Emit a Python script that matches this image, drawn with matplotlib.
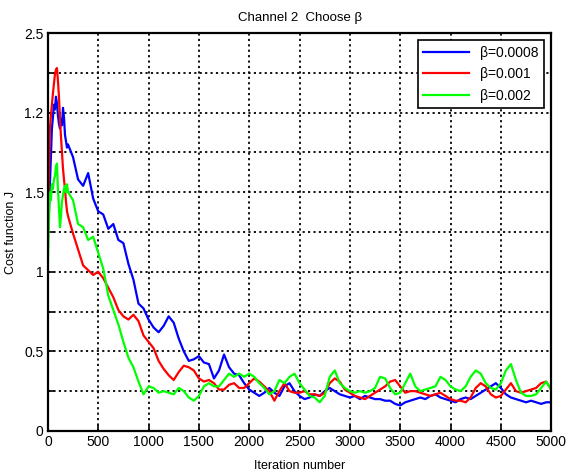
import numpy as np
import matplotlib
matplotlib.use('Agg')
import matplotlib.pyplot as plt

plt.rcParams['font.family'] = ['Liberation Sans', 'DejaVu Sans']

# iteration axis: fine steps at the start, then every 50
iterations = np.concatenate([np.arange(0, 201, 10), np.arange(250, 5001, 50)])

blue_0008 = [1.25, 1.38, 1.55, 1.72, 1.90, 1.97, 2.05, 2.02, 2.10, 2.06, 1.98,
             1.93, 1.90, 1.96, 1.92, 2.03, 1.97, 1.86, 1.82, 1.78, 1.80,
             1.72, 1.58, 1.54, 1.62, 1.46, 1.38, 1.36, 1.27, 1.30, 1.20,
             1.18, 1.05, 0.95, 0.80, 0.77, 0.70, 0.65, 0.62, 0.66, 0.72,
             0.68, 0.58, 0.50, 0.44, 0.45, 0.47, 0.43, 0.42, 0.33, 0.38,
             0.48, 0.40, 0.36, 0.35, 0.30, 0.26, 0.24, 0.22, 0.24, 0.27,
             0.24, 0.22, 0.28, 0.30, 0.25, 0.22, 0.20, 0.21, 0.23, 0.22,
             0.25, 0.27, 0.25, 0.23, 0.22, 0.21, 0.22, 0.20, 0.22, 0.21,
             0.20, 0.20, 0.19, 0.19, 0.17, 0.16, 0.18, 0.19, 0.20, 0.21,
             0.20, 0.22, 0.23, 0.21, 0.20, 0.19, 0.18, 0.20, 0.21, 0.20,
             0.22, 0.24, 0.26, 0.28, 0.30, 0.27, 0.23, 0.21, 0.20, 0.19,
             0.18, 0.19, 0.18, 0.17, 0.18, 0.18]

red_001 = [1.25, 1.60, 1.90, 1.98, 2.05, 2.12, 2.18, 2.24, 2.27, 2.28, 2.20,
           2.10, 1.96, 1.85, 1.75, 1.65, 1.58, 1.52, 1.44, 1.38, 1.35,
           1.24, 1.14, 1.04, 1.01, 0.98, 1.00, 0.96, 0.90, 0.84, 0.76,
           0.72, 0.70, 0.73, 0.69, 0.60, 0.56, 0.52, 0.44, 0.39, 0.35,
           0.32, 0.37, 0.41, 0.40, 0.38, 0.33, 0.31, 0.32, 0.30, 0.26,
           0.26, 0.29, 0.30, 0.27, 0.27, 0.30, 0.33, 0.31, 0.28, 0.25,
           0.19, 0.25, 0.30, 0.25, 0.24, 0.24, 0.25, 0.23, 0.23, 0.22,
           0.24, 0.30, 0.33, 0.31, 0.26, 0.24, 0.22, 0.21, 0.20, 0.22,
           0.24, 0.26, 0.28, 0.31, 0.32, 0.28, 0.24, 0.25, 0.25, 0.24,
           0.23, 0.22, 0.23, 0.24, 0.22, 0.20, 0.19, 0.19, 0.18, 0.21,
           0.27, 0.30, 0.28, 0.23, 0.21, 0.22, 0.26, 0.30, 0.25, 0.24,
           0.25, 0.26, 0.27, 0.30, 0.31, 0.26]

green_002 = [1.05, 1.30, 1.50, 1.45, 1.55, 1.52, 1.58, 1.60, 1.66, 1.68, 1.52,
             1.40, 1.28, 1.35, 1.44, 1.48, 1.52, 1.54, 1.50, 1.55, 1.50,
             1.45, 1.30, 1.28, 1.20, 1.22, 1.12, 1.02, 0.85, 0.76, 0.67,
             0.56, 0.46, 0.40, 0.31, 0.23, 0.28, 0.27, 0.24, 0.25, 0.24,
             0.23, 0.27, 0.25, 0.21, 0.19, 0.22, 0.28, 0.30, 0.28, 0.28,
             0.32, 0.36, 0.34, 0.36, 0.34, 0.36, 0.34, 0.30, 0.27, 0.23,
             0.25, 0.32, 0.30, 0.34, 0.36, 0.30, 0.26, 0.22, 0.21, 0.18,
             0.22, 0.34, 0.38, 0.30, 0.27, 0.25, 0.24, 0.25, 0.24, 0.25,
             0.27, 0.34, 0.33, 0.27, 0.23, 0.24, 0.30, 0.36, 0.28, 0.25,
             0.26, 0.27, 0.28, 0.34, 0.32, 0.28, 0.26, 0.25, 0.28, 0.34,
             0.38, 0.36, 0.30, 0.27, 0.26, 0.30, 0.38, 0.42, 0.32, 0.24,
             0.22, 0.22, 0.23, 0.27, 0.31, 0.26]

series_labels = ['\u03b2=0.0008', '\u03b2=0.001', '\u03b2=0.002']
series_colors = ['#0000ff', '#ff0000', '#00ff00']

y_ticks = [0, 0.25, 0.5, 0.75, 1, 1.25, 1.5, 1.75, 2, 2.25, 2.5]
y_tick_labels = ['0', '', '0.5', '', '1', '', '1.5', '', '1.2', '', '2.5']
x_ticks = np.arange(0, 5001, 500)

fig = plt.figure(figsize=(5.7, 4.72), dpi=100)
ax = fig.add_axes([0.084, 0.087, 0.883, 0.843])

for vals, lab, col in zip([blue_0008, red_001, green_002], series_labels, series_colors):
    ax.plot(iterations, vals, color=col, linewidth=1.6, label=lab)

ax.set_xlim(0, 5000)
ax.set_ylim(0, 2.5)
ax.set_xticks(x_ticks)
ax.set_yticks(y_ticks)
ax.set_yticklabels(y_tick_labels)
ax.tick_params(direction='in', length=4, width=1.2, labelsize=10, colors='black', pad=3)
ax.grid(True, color='black', linestyle=(0, (1.2, 1.8)), linewidth=1.3)
for sp in ax.spines.values():
    sp.set_linewidth(1.6)

ax.set_title('Channel 2  Choose \u03b2', fontsize=9.5, pad=9)
ax.set_xlabel('Iteration number', fontsize=9)
ax.xaxis.set_label_coords(0.5, -0.072)
ax.set_ylabel('Cost function J', fontsize=9)
ax.yaxis.set_label_coords(-0.062, 0.5)

leg = ax.legend(loc='upper right', fontsize=10, handlelength=3.3, labelspacing=0.55,
                borderaxespad=0.5, fancybox=False, framealpha=1, edgecolor='black')
leg.get_frame().set_linewidth(1.2)

fig.savefig('out.png', dpi=100)
